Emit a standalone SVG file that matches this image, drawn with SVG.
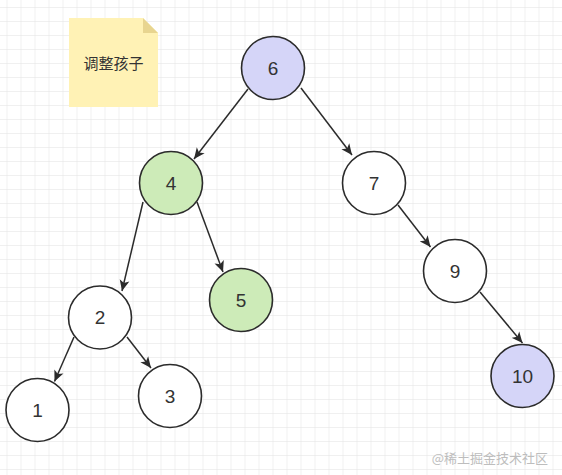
<svg xmlns="http://www.w3.org/2000/svg" width="562" height="475" viewBox="0 0 562 475">
<defs>
<pattern id="grid" x="6.5" y="7" width="14" height="14" patternUnits="userSpaceOnUse">
<path d="M0 0H14M0 0V14" fill="none" stroke="#e2e2e2" stroke-width="1"/>
</pattern>
<marker id="arr" viewBox="0 0 10 10" refX="10" refY="5" markerWidth="11" markerHeight="11" markerUnits="userSpaceOnUse" orient="auto">
<path d="M0 0.5L10 5L0 9.5L2.5 5Z" fill="#2b2b2b"/>
</marker>
<style>
.n circle{stroke:#2b2b2b;stroke-width:1.6;}
.n text{font-family:"Liberation Sans",Arial,sans-serif;font-size:19px;fill:#333;text-anchor:middle;dominant-baseline:central;}
.w circle{fill:#ffffff;}
.b circle{fill:#d5d5f8;}
.g circle{fill:#cdebb8;}
#edges line{stroke:#2b2b2b;stroke-width:1.5;marker-end:url(#arr);}
</style>
</defs>
<rect width="562" height="475" fill="#ffffff"/>
<rect width="562" height="475" fill="url(#grid)"/>
<g id="note">
<path d="M69 18H143L158 33V107H69Z" fill="#fff2b5"/>
<path d="M143 18L158 33H143Z" fill="#e8d590"/>
<text x="113.5" y="62" font-family="'Noto Sans CJK SC',sans-serif" font-size="15" fill="#333" text-anchor="middle" dominant-baseline="central">调整孩子</text>
</g>
<g id="edges">
<line x1="248" y1="89" x2="194" y2="159"/>
<line x1="301" y1="88" x2="352" y2="155"/>
<line x1="143" y1="202" x2="122" y2="291"/>
<line x1="197" y1="202" x2="223" y2="272"/>
<line x1="74" y1="337" x2="54.5" y2="381.5"/>
<line x1="127" y1="337" x2="151" y2="368"/>
<line x1="398" y1="205" x2="430.5" y2="247"/>
<line x1="480" y1="292" x2="522.5" y2="343"/>
</g>
<g id="node6" class="n b"><circle cx="273" cy="68" r="31.5"/><text x="273" y="68">6</text></g>
<g id="node4" class="n g"><circle cx="171" cy="183" r="31.5"/><text x="171" y="183">4</text></g>
<g id="node7" class="n w"><circle cx="374" cy="183" r="31.5"/><text x="374" y="183">7</text></g>
<g id="node2" class="n w"><circle cx="100" cy="317.5" r="31.5"/><text x="100" y="317.5">2</text></g>
<g id="node5" class="n g"><circle cx="241" cy="300" r="31.5"/><text x="241" y="300">5</text></g>
<g id="node9" class="n w"><circle cx="455" cy="271" r="31.5"/><text x="455" y="271">9</text></g>
<g id="node1" class="n w"><circle cx="37.5" cy="410" r="31.5"/><text x="37.5" y="410">1</text></g>
<g id="node3" class="n w"><circle cx="170" cy="396" r="31.5"/><text x="170" y="396">3</text></g>
<g id="node10" class="n b"><circle cx="522.5" cy="376" r="31.5"/><text x="522.5" y="376">10</text></g>
<text x="548" y="457" font-family="'Noto Sans CJK SC',sans-serif" font-size="13" fill="#bdbdbd" text-anchor="end" dominant-baseline="central">@稀土掘金技术社区</text>
</svg>
